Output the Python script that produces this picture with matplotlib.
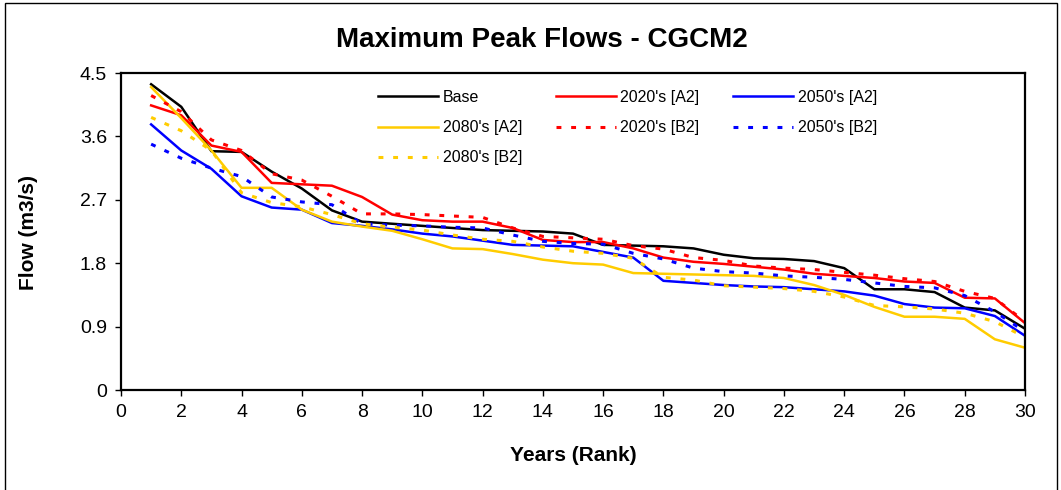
import matplotlib
matplotlib.use("Agg")
import matplotlib.pyplot as plt
from matplotlib.patches import Rectangle

plt.rcParams['font.family'] = ['Liberation Sans', 'DejaVu Sans']

rank = list(range(1, 31))
base = [4.34, 4.02, 3.39, 3.38, 3.10, 2.86, 2.55, 2.39, 2.36, 2.33, 2.30, 2.27, 2.26, 2.25, 2.22,
        2.06, 2.05, 2.04, 2.01, 1.92, 1.87, 1.86, 1.83, 1.73, 1.43, 1.43, 1.39, 1.17, 1.13, 0.87]
a2_2020 = [4.04, 3.90, 3.47, 3.38, 2.94, 2.92, 2.90, 2.74, 2.49, 2.41, 2.39, 2.39, 2.30, 2.13, 2.10,
           2.10, 2.01, 1.88, 1.82, 1.79, 1.75, 1.71, 1.65, 1.62, 1.59, 1.54, 1.52, 1.31, 1.30, 0.95]
a2_2050 = [3.77, 3.40, 3.14, 2.75, 2.59, 2.56, 2.37, 2.33, 2.28, 2.22, 2.18, 2.12, 2.06, 2.05, 2.04,
           1.96, 1.88, 1.55, 1.52, 1.49, 1.47, 1.46, 1.43, 1.40, 1.34, 1.22, 1.17, 1.16, 1.05, 0.77]
a2_2080 = [4.30, 3.86, 3.40, 2.87, 2.87, 2.56, 2.39, 2.32, 2.26, 2.14, 2.01, 2.00, 1.93, 1.85, 1.80,
           1.78, 1.66, 1.65, 1.64, 1.63, 1.62, 1.59, 1.49, 1.35, 1.18, 1.04, 1.04, 1.01, 0.72, 0.60]
b2_2020 = [4.18, 3.95, 3.55, 3.40, 3.07, 2.98, 2.75, 2.50, 2.50, 2.49, 2.47, 2.45, 2.30, 2.18, 2.16,
           2.14, 2.05, 2.00, 1.88, 1.84, 1.76, 1.73, 1.71, 1.67, 1.63, 1.58, 1.54, 1.40, 1.30, 0.97]
b2_2050 = [3.49, 3.29, 3.15, 3.03, 2.74, 2.67, 2.63, 2.36, 2.34, 2.33, 2.31, 2.30, 2.20, 2.11, 2.08,
           2.07, 1.94, 1.86, 1.73, 1.68, 1.66, 1.62, 1.60, 1.57, 1.52, 1.47, 1.45, 1.34, 1.11, 0.83]
b2_2080 = [3.87, 3.68, 3.40, 2.80, 2.66, 2.60, 2.49, 2.36, 2.31, 2.27, 2.20, 2.14, 2.11, 2.03, 1.97,
           1.94, 1.87, 1.60, 1.56, 1.48, 1.46, 1.44, 1.40, 1.32, 1.20, 1.18, 1.15, 1.09, 0.97, 0.75]

x_ticks = list(range(0, 31, 2))
y_ticks = [0, 0.9, 1.8, 2.7, 3.6, 4.5]
y_labels = ['0', '0.9', '1.8', '2.7', '3.6', '4.5']

W, H = 1061, 490
fig = plt.figure(figsize=(W / 100, H / 100), dpi=100)
ax = fig.add_axes([121 / W, 1 - 390 / H, (1025 - 121) / W, (390 - 73) / H])

lw = 1.8
dot = (0, (1.6, 3.2))
RED, BLUE, YEL = '#FF0000', '#0000FF', '#FFCC00'

h_base, = ax.plot(rank, base, color='black', lw=lw, label='Base')
h_a20, = ax.plot(rank, a2_2020, color=RED, lw=lw, label="2020's [A2]")
h_a50, = ax.plot(rank, a2_2050, color=BLUE, lw=lw, label="2050's [A2]")
h_a80, = ax.plot(rank, a2_2080, color=YEL, lw=lw, label="2080's [A2]")
h_b20, = ax.plot(rank, b2_2020, color=RED, lw=2.2, ls=dot, label="2020's [B2]")
h_b50, = ax.plot(rank, b2_2050, color=BLUE, lw=2.2, ls=dot, label="2050's [B2]")
h_b80, = ax.plot(rank, b2_2080, color=YEL, lw=2.2, ls=dot, label="2080's [B2]")

ax.set_xlim(0, 30)
ax.set_ylim(0, 4.5)
ax.set_xticks(x_ticks)
ax.set_yticks(y_ticks)
ax.set_yticklabels(y_labels)
ax.tick_params(direction='out', length=4, width=1, labelsize=14, pad=6)
for s in ax.spines.values():
    s.set_linewidth(1.6)

handles = [h_base, h_a80, h_b80, h_a20, h_b20, h_a50, h_b50]
leg = ax.legend(handles=handles, ncol=3, frameon=False, fontsize=11.5,
                loc='upper left', bbox_to_anchor=((378 - 121) / (1025 - 121), 1 - (90 - 73) / (390 - 73)),
                handlelength=3.75, handletextpad=0.3, columnspacing=2.1, labelspacing=0.95,
                borderaxespad=0, borderpad=0)

fig.text(542 / W, 1 - 40 / H, 'Maximum Peak Flows - CGCM2', ha='center', va='center',
         fontsize=20, fontweight='bold')
fig.text(573 / W, 1 - 455 / H, 'Years (Rank)', ha='center', va='center',
         fontsize=15, fontweight='bold')
fig.text(28 / W, 1 - 232 / H, 'Flow (m3/s)', ha='center', va='center', rotation=90,
         fontsize=15, fontweight='bold')

fig.patches.append(Rectangle((5 / W, -0.05), (1057 - 5) / W, 1.05 - 3 / H,
                             transform=fig.transFigure, fill=False, edgecolor='black', lw=1))

fig.savefig('out.png', dpi=100)
